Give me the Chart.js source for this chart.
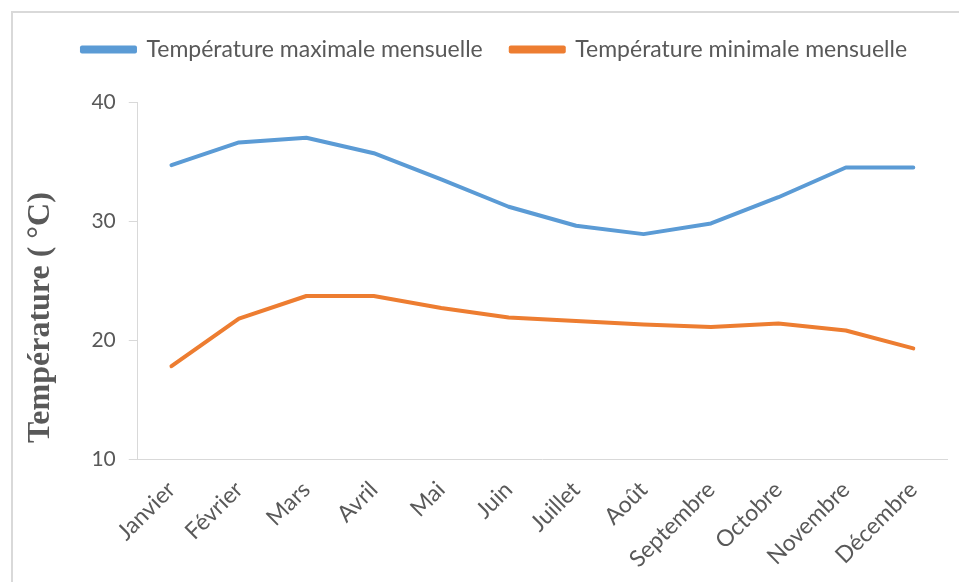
<!DOCTYPE html>
<html>
<head>
<meta charset="utf-8">
<script src="https://cdn.jsdelivr.net/npm/chart.js@4"></script>
<style>
    html, body { margin: 0; padding: 0; background: #fff; }
    #cadre { position: absolute; left: 11px; top: 11px; width: 960px; height: 580px;
             border-left: 2px solid #d9d9d9; border-top: 2px solid #d9d9d9; }
    #tempChart { position: absolute; left: 0; top: 0; }
</style>
</head>
<body>
<div id="cadre"></div>
<canvas id="tempChart" width="959" height="582"></canvas>
<script>
// mois de l'année (axe x)
const mois = ["Janvier", "Février", "Mars", "Avril", "Mai", "Juin", "Juillet", "Août",
    "Septembre", "Octobre", "Novembre", "Décembre"];

// températures (°C)
const tempMax = [34.7, 36.6, 37.0, 35.7, 33.5, 31.2, 29.6, 28.9, 29.8, 32.0, 34.5, 34.5];
const tempMin = [17.8, 21.8, 23.7, 23.7, 22.7, 21.9, 21.6, 21.3, 21.1, 21.4, 20.8, 19.3];

// graduations de l'axe y
const yMin = 10;
const yMax = 40;
const yPas = 10;

const gris = "#595959";
const ligneAxe = "#d9d9d9";
const police = "Lato, 'Open Sans', sans-serif";

// un peu plus d'espace sous la légende
const margeLegende = {
    id: "margeLegende",
    beforeInit(chart) {
        const fit = chart.legend.fit;
        chart.legend.fit = function () {
            fit.bind(chart.legend)();
            this.height += 31;
        };
    }
};

const ctx = document.getElementById("tempChart").getContext("2d");

new Chart(ctx, {
    type: "line",
    data: {
        labels: mois,
        datasets: [
            {
                label: "Température maximale mensuelle",
                data: tempMax,
                borderColor: "#5b9bd5",
                backgroundColor: "#5b9bd5",
                borderWidth: 4,
                pointRadius: 0,
                tension: 0,
                borderCapStyle: "round",
                borderJoinStyle: "round"
            },
            {
                label: "Température minimale mensuelle",
                data: tempMin,
                borderColor: "#ed7d31",
                backgroundColor: "#ed7d31",
                borderWidth: 4,
                pointRadius: 0,
                tension: 0,
                borderCapStyle: "round",
                borderJoinStyle: "round"
            }
        ]
    },
    plugins: [margeLegende],
    options: {
        responsive: false,
        animation: false,
        layout: { padding: { left: 42, right: 12, top: 10, bottom: 0 } },
        plugins: {
            tooltip: { enabled: false },
            legend: {
                position: "top",
                labels: {
                    boxWidth: 53,
                    boxHeight: 4,
                    color: gris,
                    padding: 28,
                    font: { family: police, size: 23 }
                }
            }
        },
        scales: {
            x: {
                offset: true,
                grid: { display: false },
                border: { display: true, color: ligneAxe, width: 1 },
                ticks: {
                    color: gris,
                    maxRotation: 45,
                    minRotation: 45,
                    padding: 9,
                    font: { family: police, size: 23 }
                }
            },
            y: {
                min: yMin,
                max: yMax,
                grid: {
                    drawOnChartArea: false,
                    drawTicks: true,
                    tickLength: 9,
                    color: ligneAxe
                },
                border: { display: true, color: ligneAxe, width: 1 },
                ticks: {
                    stepSize: yPas,
                    color: gris,
                    padding: 13,
                    font: { family: police, size: 21 }
                },
                title: {
                    display: true,
                    text: "  Température ( °C)",
                    align: "start",
                    color: gris,
                    padding: { top: -20, bottom: 18 },
                    font: { family: "'Liberation Serif', 'Times New Roman', serif", size: 32, weight: "bold" }
                }
            }
        }
    }
});
</script>
</body>
</html>
